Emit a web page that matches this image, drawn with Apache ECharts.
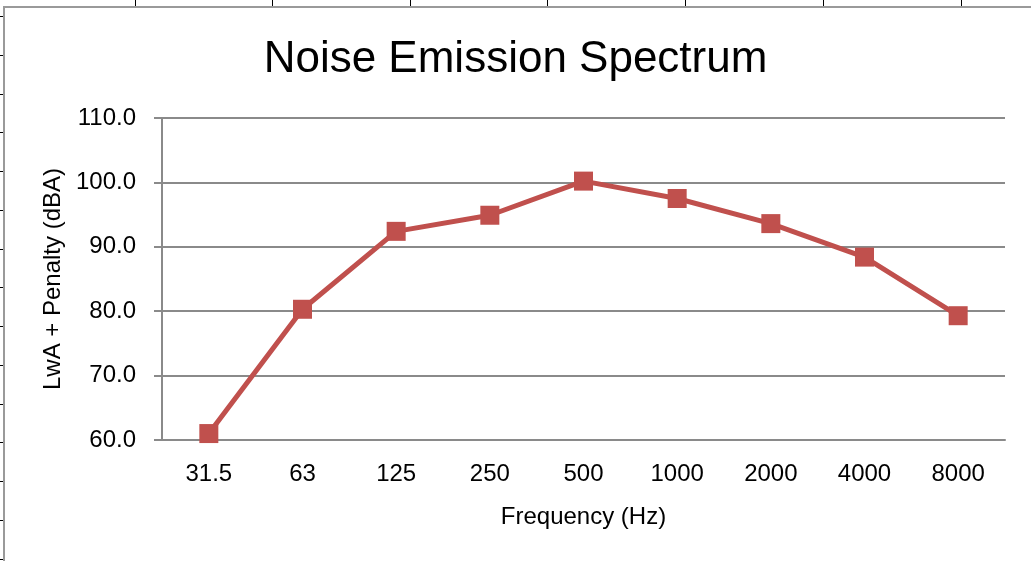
<!DOCTYPE html>
<html>
<head>
<meta charset="utf-8">
<script src="https://cdn.jsdelivr.net/npm/echarts@6/dist/echarts.min.js"></script>
<style>
  html, body { margin: 0; padding: 0; background: #fff; }
  #chart { width: 1031px; height: 561px; }
</style>
</head>
<body>
<div id="chart"></div>
<script>
// 频率（类目）
const frequencies = ['31.5', '63', '125', '250', '500', '1000', '2000', '4000', '8000']
// LwA + Penalty 数值
const levels = [61.0, 80.3, 92.4, 94.9, 100.2, 97.5, 93.6, 88.4, 79.3]
// Y 轴刻度
const yMin = 60
const yMax = 110
const yStep = 10

const FONT = '"Liberation Sans", Arial, sans-serif'
const AXIS_GRAY = '#8a8a8a'
const RED = '#C0504D'

// 表格背景线（装饰）
const decor = []
const colX = [135, 272, 410, 547, 685, 823, 961]
colX.forEach(x => {
  decor.push({
    type: 'line', silent: true,
    shape: { x1: x + 0.5, y1: 0, x2: x + 0.5, y2: 6 },
    style: { stroke: '#000', lineWidth: 1 }
  })
})
for (let y = 16; y < 561; y += 38.75) {
  decor.push({
    type: 'line', silent: true,
    shape: { x1: 0, y1: Math.round(y) + 0.5, x2: 3, y2: Math.round(y) + 0.5 },
    style: { stroke: '#000', lineWidth: 1 }
  })
}
// 图表外框
decor.push({
  type: 'rect', silent: true,
  shape: { x: 4, y: 7, width: 1100, height: 700 },
  style: { fill: 'none', stroke: '#9a9a9a', lineWidth: 2 }
})

const myChart = echarts.init(document.getElementById('chart'))

const option = {
  backgroundColor: '#fff',
  animation: false,
  title: {
    text: 'Noise Emission Spectrum',
    left: 'center',
    top: 33,
    textStyle: {
      fontFamily: FONT,
      fontSize: 44,
      fontWeight: 'normal',
      color: '#000'
    }
  },
  grid: {
    left: 162,
    right: 26,
    top: 118,
    bottom: 121
  },
  xAxis: {
    type: 'category',
    data: frequencies,
    boundaryGap: true,
    name: 'Frequency (Hz)',
    nameLocation: 'middle',
    nameGap: 65,
    nameTextStyle: { fontFamily: FONT, fontSize: 24, color: '#000' },
    axisLine: { lineStyle: { color: AXIS_GRAY, width: 2 } },
    axisTick: { length: 7, lineStyle: { color: AXIS_GRAY, width: 2 } },
    axisLabel: { fontFamily: FONT, fontSize: 24, color: '#000', margin: 22 },
    splitLine: { show: false }
  },
  yAxis: {
    type: 'value',
    min: yMin,
    max: yMax,
    interval: yStep,
    name: 'LwA + Penalty (dBA)',
    nameLocation: 'middle',
    nameGap: 96,
    nameTextStyle: { fontFamily: FONT, fontSize: 24, color: '#000' },
    axisLine: { show: true, lineStyle: { color: AXIS_GRAY, width: 2 } },
    axisTick: { show: true, length: 8, lineStyle: { color: AXIS_GRAY, width: 2 } },
    axisLabel: {
      fontFamily: FONT,
      fontSize: 24,
      color: '#000',
      margin: 26,
      formatter: v => v.toFixed(1)
    },
    splitLine: { lineStyle: { color: AXIS_GRAY, width: 2 } }
  },
  series: [
    {
      type: 'line',
      data: levels,
      symbol: 'rect',
      symbolSize: 19,
      itemStyle: { color: RED },
      lineStyle: { color: RED, width: 5 },
      z: 5
    }
  ],
  graphic: decor
}

myChart.setOption(option)
</script>
</body>
</html>
